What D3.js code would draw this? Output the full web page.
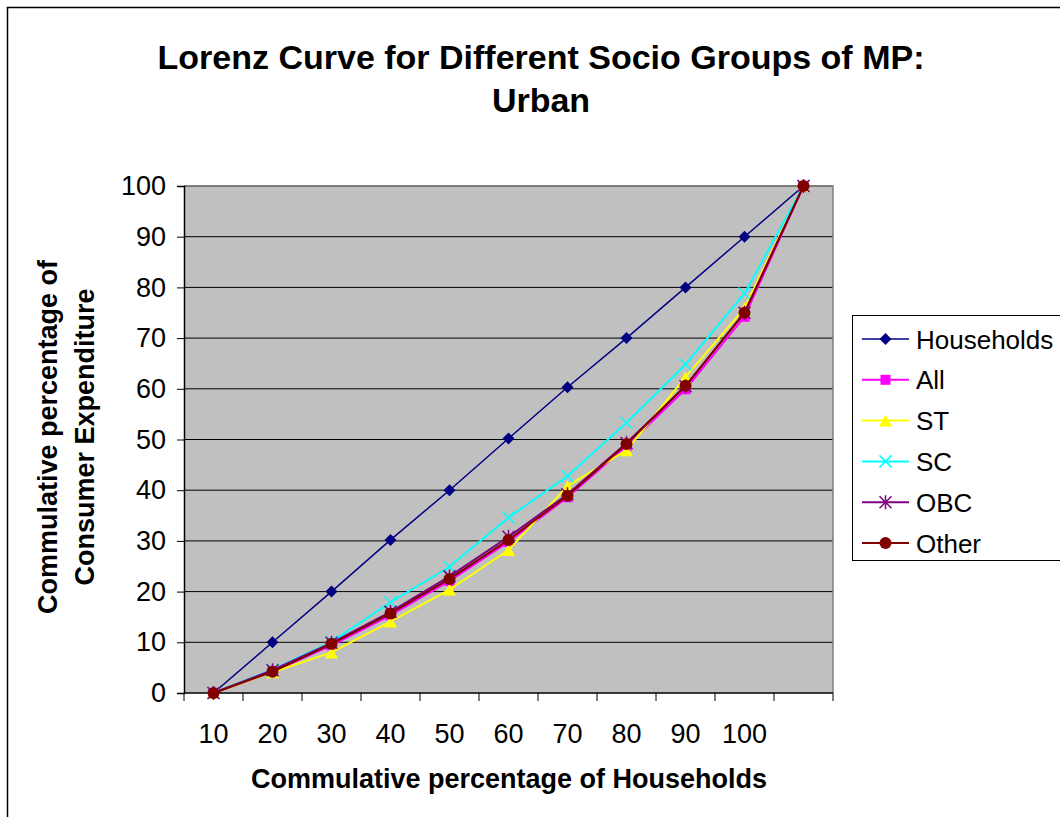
<!DOCTYPE html>
<html>
<head>
<meta charset="utf-8">
<script src="https://cdn.jsdelivr.net/npm/d3@7"></script>
<style>
  html, body { margin: 0; padding: 0; background: #fff; }
  svg { display: block; font-family: "Liberation Sans", Arial, sans-serif; }
</style>
</head>
<body>
<svg id="chart" width="1060" height="817"></svg>
<script>
// ---- data ----
const categories = ["10", "20", "30", "40", "50", "60", "70", "80", "90", "100", ""];
const yTicks = [0, 10, 20, 30, 40, 50, 60, 70, 80, 90, 100];
const seriesNames = ["Households", "All", "ST", "SC", "OBC", "Other"];
const households = [0, 10, 20, 30.2, 40, 50.2, 60.3, 70, 80, 90, 100];
const allGroups  = [0, 4.2, 9.4, 15.3, 22.1, 29.8, 38.6, 48.7, 59.9, 74.2, 100];
const st         = [0, 4.1, 8.0, 14.1, 20.4, 28.2, 40.8, 47.9, 62.3, 75.9, 100];
const sc         = [0, 4.6, 10.1, 17.9, 24.9, 34.6, 42.8, 53.3, 64.8, 78.8, 100];
const obc        = [0, 4.5, 9.9, 16.0, 23.0, 30.8, 39.2, 49.3, 60.5, 75.0, 100];
const other      = [0, 4.2, 9.7, 15.7, 22.5, 30.2, 38.9, 49.1, 60.6, 75.0, 100];

const seriesValues = [households, allGroups, st, sc, obc, other];
const colors = ["#000080", "#FF00FF", "#FFFF00", "#00FFFF", "#800080", "#800000"];
const markerTypes = ["diamond", "square", "triangle", "x", "asterisk", "circle"];

// ---- layout ----
const svg = d3.select("#chart");
const pL = 184, pR = 833, pT = 186, pB = 693;

// outer frame
svg.append("rect").attr("x", 7.5).attr("y", 7.5).attr("width", 1100).attr("height", 900)
  .attr("fill", "none").attr("stroke", "#000").attr("stroke-width", 1.5);

// title
svg.append("text").attr("x", 541).attr("y", 69).attr("text-anchor", "middle")
  .attr("font-size", 34).attr("font-weight", "bold").text("Lorenz Curve for Different Socio Groups of MP:");
svg.append("text").attr("x", 541).attr("y", 112).attr("text-anchor", "middle")
  .attr("font-size", 34).attr("font-weight", "bold").text("Urban");

const x = d3.scaleBand().domain(d3.range(categories.length)).range([pL, pR]);
const y = d3.scaleLinear().domain([0, 100]).range([pB, pT]);
const cx = i => x(i) + x.bandwidth() / 2;

// plot area
svg.append("rect").attr("x", pL).attr("y", pT).attr("width", pR - pL).attr("height", pB - pT)
  .attr("fill", "#C0C0C0");
// gridlines
svg.append("g").selectAll("line").data(yTicks.slice(1)).join("line")
  .attr("x1", pL).attr("x2", pR).attr("y1", d => y(d)).attr("y2", d => y(d))
  .attr("stroke", "#000").attr("stroke-width", 1);
// plot border (top/right gray)
svg.append("path").attr("d", `M${pL},${pT}H${pR}V${pB}`).attr("fill", "none")
  .attr("stroke", "#808080").attr("stroke-width", 1.5);

// y axis
const yAxis = d3.axisLeft(y).tickValues(yTicks).tickSize(7).tickPadding(11);
const gy = svg.append("g").attr("transform", `translate(${pL},0)`).call(yAxis);
gy.select(".domain").attr("stroke", "#000").attr("stroke-width", 1.5);
gy.selectAll(".tick line").attr("stroke", "#000");
gy.selectAll(".tick text").attr("font-size", 27).attr("font-family", "Liberation Sans, Arial, sans-serif").attr("fill", "#000");

// x axis (ticks at band edges, labels at centers)
const gx = svg.append("g");
gx.append("line").attr("x1", pL).attr("x2", pR).attr("y1", pB).attr("y2", pB)
  .attr("stroke", "#000").attr("stroke-width", 1.5);
const edges = d3.range(categories.length).map(i => x(i)).concat([pR]);
gx.selectAll("line.tk").data(edges).join("line").attr("class", "tk")
  .attr("x1", d => d).attr("x2", d => d).attr("y1", pB).attr("y2", pB + 8)
  .attr("stroke", "#000");
gx.selectAll("text").data(categories).join("text")
  .attr("x", (d, i) => cx(i)).attr("y", 743).attr("text-anchor", "middle")
  .attr("font-size", 27).text(d => d);

// axis titles
svg.append("text").attr("x", 509).attr("y", 788).attr("text-anchor", "middle")
  .attr("font-size", 27).attr("font-weight", "bold").text("Commulative percentage of Households");
const yt = svg.append("text").attr("transform", "translate(0,437) rotate(-90)")
  .attr("text-anchor", "middle").attr("font-size", 27).attr("font-weight", "bold");
yt.append("tspan").attr("x", 0).attr("y", 57).text("Commulative percentage of");
yt.append("tspan").attr("x", 0).attr("y", 94).text("Consumer Expenditure");

// markers
function drawMarker(g, type, color, px, py) {
  if (type === "diamond") {
    g.append("path").attr("d", `M${px},${py-6}L${px+6},${py}L${px},${py+6}L${px-6},${py}Z`).attr("fill", color);
  } else if (type === "square") {
    g.append("rect").attr("x", px-5).attr("y", py-5).attr("width", 10).attr("height", 10).attr("fill", color);
  } else if (type === "triangle") {
    g.append("path").attr("d", `M${px},${py-6}L${px+6.5},${py+6}L${px-6.5},${py+6}Z`).attr("fill", color);
  } else if (type === "x") {
    g.append("path").attr("d", `M${px-6},${py-6}L${px+6},${py+6}M${px-6},${py+6}L${px+6},${py-6}`)
      .attr("stroke", color).attr("stroke-width", 1.5);
  } else if (type === "asterisk") {
    g.append("path").attr("d", `M${px-6},${py-6}L${px+6},${py+6}M${px-6},${py+6}L${px+6},${py-6}M${px},${py-7}V${py+7}`)
      .attr("stroke", color).attr("stroke-width", 1.5);
  } else if (type === "circle") {
    g.append("circle").attr("cx", px).attr("cy", py).attr("r", 6).attr("fill", color);
  }
}

const line = d3.line().x((d, i) => cx(i)).y(d => y(d));
seriesValues.forEach((vals, s) => {
  const g = svg.append("g");
  g.append("path").attr("d", line(vals)).attr("fill", "none").attr("stroke", colors[s])
    .attr("stroke-width", s === 0 ? 1.5 : 2);
  vals.forEach((v, i) => drawMarker(g, markerTypes[s], colors[s], cx(i), y(v)));
});

// legend
svg.append("rect").attr("x", 852.5).attr("y", 315.5).attr("width", 300).attr("height", 245)
  .attr("fill", "#fff").attr("stroke", "#000").attr("stroke-width", 1);
seriesNames.forEach((name, s) => {
  const ly = 339 + s * 40.8;
  const g = svg.append("g");
  g.append("line").attr("x1", 862).attr("x2", 909).attr("y1", ly).attr("y2", ly)
    .attr("stroke", colors[s]).attr("stroke-width", s === 0 ? 1.5 : 2);
  drawMarker(g, markerTypes[s], colors[s], 885.5, ly);
  g.append("text").attr("x", 916).attr("y", ly + 9.5).attr("font-size", 26).text(name);
});
</script>
</body>
</html>
